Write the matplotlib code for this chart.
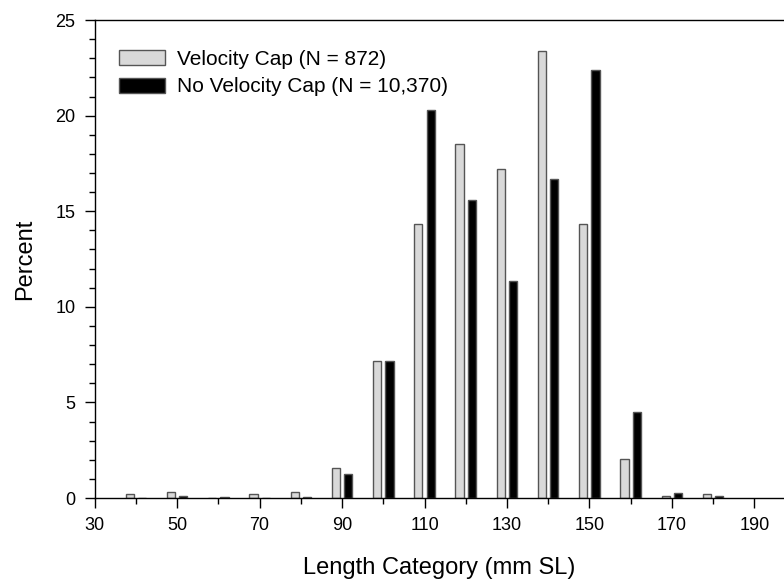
import numpy as np
import matplotlib
matplotlib.use("Agg")
import matplotlib.pyplot as plt

plt.rcParams['font.family'] = ['Liberation Sans', 'DejaVu Sans']

# Length categories (mm SL) and percent of catch per category
categories = [40, 50, 60, 70, 80, 90, 100, 110, 120, 130, 140, 150, 160, 170, 180]
velocity_cap = [0.2, 0.3, 0.0, 0.2, 0.3, 1.57, 7.15, 14.35, 18.5, 17.2, 23.4, 14.35, 2.05, 0.09, 0.2]
no_velocity_cap = [0.0, 0.1, 0.05, 0.0, 0.05, 1.26, 7.15, 20.3, 15.6, 11.35, 16.7, 22.4, 4.5, 0.26, 0.1]

labels = ["Velocity Cap (N = 872)", "No Velocity Cap (N = 10,370)"]

fig = plt.figure(figsize=(7.84, 5.82), dpi=100)
ax = fig.add_axes([0.1208, 0.1443, 0.8792, 0.8213])

x = np.array(categories)
width = 2.0
ax.bar(x - 1.5, velocity_cap, width, color='#d9d9d9', edgecolor='#555555',
       linewidth=1.0, label=labels[0])
ax.bar(x + 1.5, no_velocity_cap, width, color='black', edgecolor='#555555',
       linewidth=1.0, label=labels[1])

ax.set_xlim(30, 197.2)
ax.set_ylim(0, 25)
ax.set_xticks(np.arange(30, 191, 20))
ax.set_xticks(np.arange(40, 191, 20), minor=True)
ax.set_yticks(np.arange(0, 26, 5))
ax.set_yticks(np.arange(0, 26, 1), minor=True)
ax.tick_params(which='major', direction='out', length=7, width=1, labelsize=13, pad=7)
ax.tick_params(which='minor', direction='out', length=4.5, width=1)
ax.spines['right'].set_visible(False)
for s in ['left', 'bottom', 'top']:
    ax.spines[s].set_linewidth(1.0)

ax.set_xlabel("Length Category (mm SL)", fontsize=17, labelpad=16)
ax.set_ylabel("Percent", fontsize=17, labelpad=14)

ax.legend(loc='upper left', bbox_to_anchor=(0.0357, 0.937), frameon=False, fontsize=15,
          handlelength=2.18, handleheight=0.72, handletextpad=0.6, labelspacing=0.4,
          borderaxespad=0, borderpad=0)

fig.savefig("out.png", dpi=100)
